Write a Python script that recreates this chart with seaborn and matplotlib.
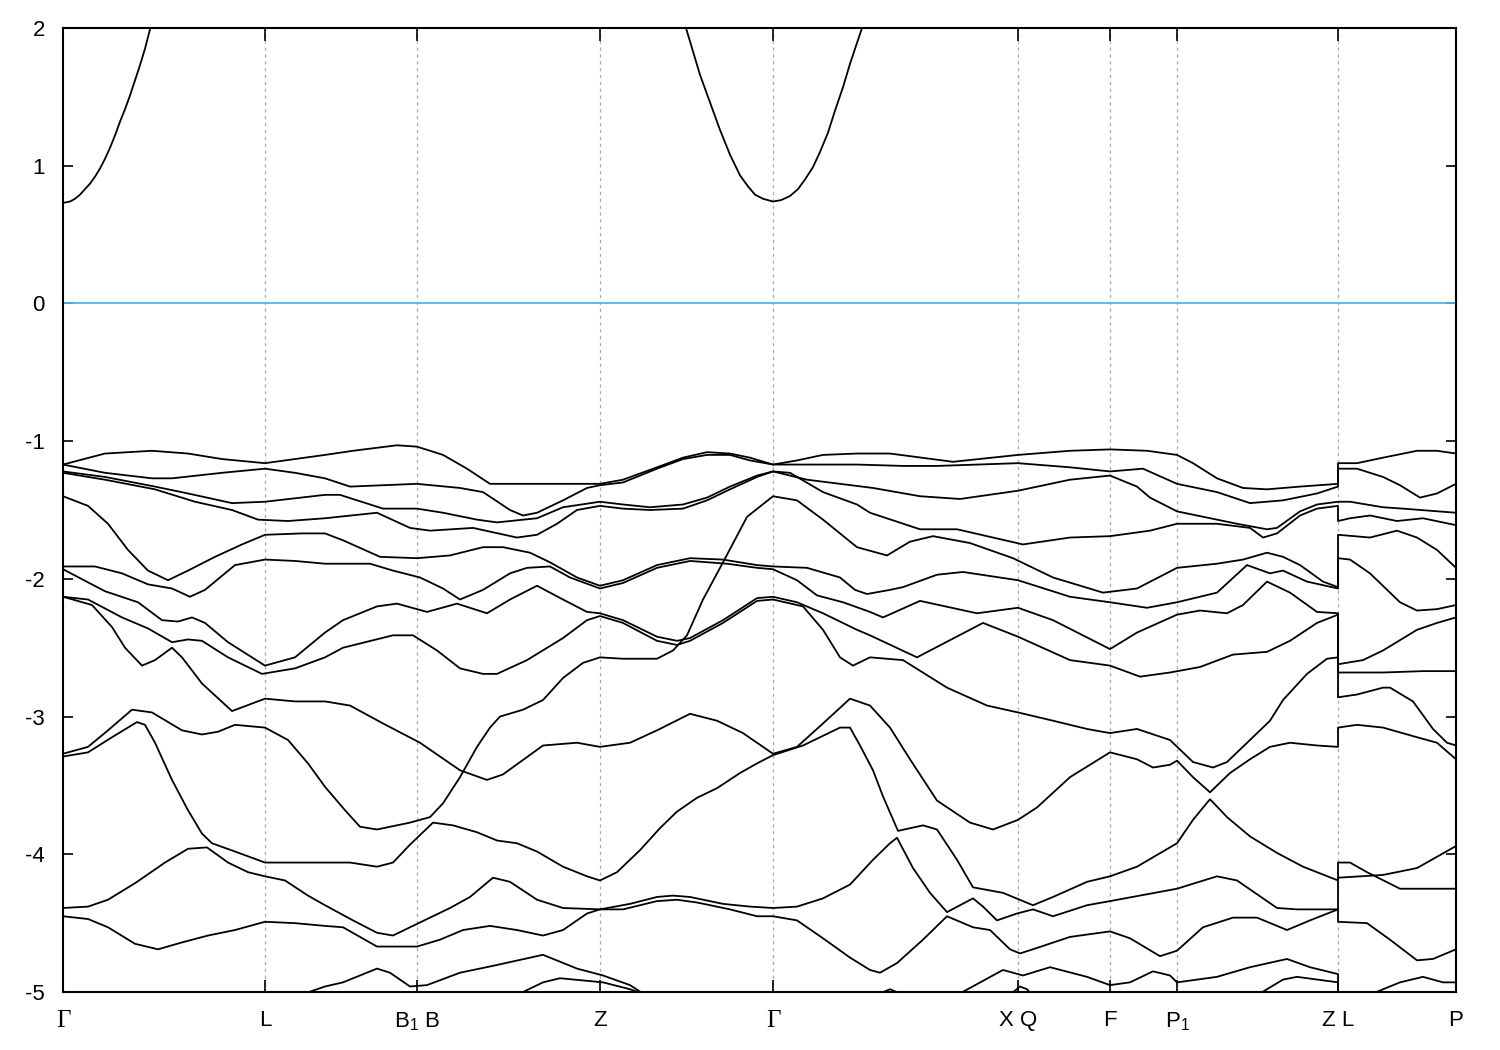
import matplotlib
matplotlib.use("Agg")
import numpy as np
import pandas as pd
import matplotlib.pyplot as plt
import seaborn as sns

# k-path coordinate in 1e-3 path units, energies in eV (valence top region)
TICK_K = [0, 202, 354, 537, 710, 955, 1047, 1114, 1275, 1393]
TICK_LABELS = ["Γ", "L", "B$_\\mathregular{1}$ B", "Z", "Γ", "X Q", "F", "P$_\\mathregular{1}$", "Z L", "P"]
Y_TICKS = [-5, -4, -3, -2, -1, 0, 1, 2]

# conduction band
CB_1 = [(0, 0.73), (7, 0.74), (12, 0.76), (17, 0.79), (22, 0.83), (27, 0.87), (32, 0.92), (37, 0.98),
        (42, 1.05), (47, 1.13), (52, 1.22), (57, 1.32), (62, 1.41), (67, 1.51), (72, 1.62), (77, 1.73),
        (82, 1.85), (87, 1.99), (97, 2.25)]
CB_2 = [(612, 2.25), (623, 2.00), (630, 1.83), (637, 1.66), (647, 1.46), (657, 1.26), (667, 1.08),
        (677, 0.93), (685, 0.85), (692, 0.79), (700, 0.76), (710, 0.74), (718, 0.75), (727, 0.78),
        (735, 0.83), (742, 0.90), (750, 0.99), (757, 1.10), (765, 1.24), (772, 1.40), (780, 1.57),
        (787, 1.74), (793, 1.87), (799, 2.00), (810, 2.25)]

# valence bands
BAND_A = [(0, -1.17), (42, -1.09), (89, -1.07), (125, -1.09), (159, -1.13), (202, -1.16), (232, -1.13),
          (262, -1.10), (290, -1.07), (334, -1.03), (354, -1.04), (380, -1.10), (404, -1.20), (427, -1.31),
          (480, -1.31), (537, -1.31), (560, -1.28), (594, -1.19), (620, -1.12), (644, -1.08), (667, -1.09),
          (687, -1.12), (710, -1.17), (734, -1.14), (760, -1.10), (794, -1.09), (827, -1.09), (890, -1.15),
          (955, -1.10), (1007, -1.07), (1047, -1.06), (1084, -1.07), (1114, -1.10), (1130, -1.16),
          (1154, -1.27), (1180, -1.34), (1204, -1.35), (1237, -1.33), (1275, -1.31), (1275, -1.16),
          (1294, -1.16), (1320, -1.12), (1354, -1.07), (1374, -1.07), (1393, -1.09)]
BAND_B = [(0, -1.17), (42, -1.23), (89, -1.27), (109, -1.27), (159, -1.23), (202, -1.20), (232, -1.23),
          (262, -1.27), (287, -1.33), (354, -1.31), (397, -1.34), (420, -1.37), (447, -1.50), (460, -1.54),
          (474, -1.52), (500, -1.43), (524, -1.34), (537, -1.32), (560, -1.30), (594, -1.20), (620, -1.13),
          (644, -1.10), (667, -1.10), (687, -1.14), (710, -1.17), (744, -1.17), (794, -1.17), (840, -1.18),
          (874, -1.18), (955, -1.16), (1007, -1.19), (1047, -1.22), (1080, -1.20), (1114, -1.31),
          (1154, -1.37), (1187, -1.45), (1220, -1.43), (1254, -1.38), (1275, -1.33), (1275, -1.20),
          (1294, -1.20), (1320, -1.26), (1337, -1.32), (1357, -1.41), (1374, -1.38), (1393, -1.31)]
BAND_C = [(0, -1.22), (42, -1.26), (92, -1.33), (125, -1.38), (169, -1.45), (202, -1.44), (262, -1.39),
          (277, -1.39), (320, -1.49), (354, -1.49), (380, -1.52), (414, -1.57), (434, -1.59), (474, -1.56),
          (500, -1.48), (537, -1.44), (560, -1.46), (587, -1.48), (620, -1.46), (644, -1.41), (667, -1.33),
          (694, -1.25), (710, -1.22), (727, -1.25), (744, -1.28), (777, -1.31), (810, -1.34), (857, -1.40),
          (897, -1.42), (955, -1.36), (1007, -1.28), (1047, -1.25), (1074, -1.33), (1087, -1.41),
          (1114, -1.51), (1154, -1.57), (1174, -1.60), (1204, -1.64), (1214, -1.63), (1237, -1.51),
          (1254, -1.46), (1275, -1.44), (1287, -1.44), (1320, -1.48), (1340, -1.49), (1393, -1.52)]
BAND_D = [(0, -1.23), (42, -1.28), (92, -1.35), (132, -1.44), (169, -1.50), (195, -1.57), (225, -1.58),
          (262, -1.56), (314, -1.52), (347, -1.63), (367, -1.65), (410, -1.63), (454, -1.70), (474, -1.68),
          (494, -1.60), (514, -1.50), (537, -1.47), (560, -1.49), (587, -1.50), (620, -1.49), (644, -1.43),
          (667, -1.35), (694, -1.26), (710, -1.22), (727, -1.23), (760, -1.37), (794, -1.46), (807, -1.52),
          (857, -1.64), (894, -1.64), (960, -1.75), (1007, -1.70), (1047, -1.69), (1087, -1.65),
          (1114, -1.60), (1154, -1.60), (1187, -1.63), (1200, -1.70), (1214, -1.67), (1237, -1.54),
          (1254, -1.49), (1275, -1.47), (1275, -1.58), (1287, -1.56), (1307, -1.54), (1334, -1.58),
          (1360, -1.56), (1393, -1.61)]
BAND_E = [(0, -1.40), (25, -1.47), (45, -1.60), (65, -1.79), (85, -1.94), (105, -2.01), (125, -1.94),
          (152, -1.84), (179, -1.75), (202, -1.68), (239, -1.67), (262, -1.67), (280, -1.72), (317, -1.84),
          (354, -1.85), (387, -1.83), (420, -1.77), (440, -1.77), (467, -1.81), (487, -1.88), (514, -1.99),
          (537, -2.05), (560, -2.01), (594, -1.90), (627, -1.85), (660, -1.86), (694, -1.90), (710, -1.91),
          (744, -1.92), (777, -1.99), (792, -2.08), (804, -2.11), (827, -2.08), (840, -2.06), (874, -1.97),
          (900, -1.95), (955, -2.01), (1007, -2.13), (1047, -2.17), (1084, -2.21), (1114, -2.17),
          (1154, -2.10), (1184, -1.90), (1207, -1.96), (1220, -1.94), (1244, -2.02), (1275, -2.07),
          (1275, -1.85), (1287, -1.86), (1307, -1.96), (1337, -2.17), (1354, -2.23), (1374, -2.22),
          (1393, -2.19)]
BAND_F = [(0, -1.91), (32, -1.91), (59, -1.96), (85, -2.04), (109, -2.07), (127, -2.13), (142, -2.08),
          (172, -1.90), (202, -1.86), (232, -1.87), (262, -1.89), (307, -1.89), (330, -1.94), (357, -1.99),
          (380, -2.07), (397, -2.15), (420, -2.08), (447, -1.96), (464, -1.92), (487, -1.91), (507, -1.99),
          (537, -2.07), (560, -2.03), (594, -1.92), (627, -1.87), (664, -1.89), (694, -1.92), (710, -1.93),
          (734, -2.01), (754, -2.12), (780, -2.17), (807, -2.24), (820, -2.28), (857, -2.16), (914, -2.25),
          (955, -2.21), (990, -2.30), (1047, -2.51), (1074, -2.39), (1114, -2.26), (1137, -2.23),
          (1164, -2.25), (1180, -2.19), (1204, -2.02), (1227, -2.10), (1254, -2.24), (1275, -2.25),
          (1275, -2.62), (1300, -2.59), (1320, -2.52), (1354, -2.37), (1374, -2.32), (1393, -2.28)]
BAND_G = [(0, -1.93), (42, -2.09), (75, -2.17), (99, -2.30), (115, -2.31), (129, -2.28), (142, -2.32),
          (165, -2.46), (202, -2.63), (232, -2.57), (262, -2.39), (280, -2.30), (314, -2.20), (334, -2.18),
          (364, -2.24), (394, -2.18), (424, -2.25), (447, -2.15), (474, -2.05), (500, -2.15), (524, -2.24),
          (537, -2.25), (560, -2.30), (594, -2.42), (614, -2.45), (627, -2.43), (660, -2.30), (694, -2.14),
          (710, -2.13), (734, -2.17), (760, -2.25), (794, -2.37), (807, -2.41), (854, -2.57), (920, -2.32),
          (955, -2.42), (1007, -2.59), (1047, -2.63), (1077, -2.71), (1107, -2.68), (1137, -2.64),
          (1170, -2.55), (1204, -2.53), (1227, -2.45), (1254, -2.32), (1275, -2.26), (1275, -2.68),
          (1320, -2.68), (1360, -2.67), (1393, -2.67)]
BAND_H = [(0, -2.13), (25, -2.15), (59, -2.28), (85, -2.36), (109, -2.46), (125, -2.44), (139, -2.45),
          (165, -2.57), (199, -2.69), (232, -2.65), (262, -2.57), (280, -2.50), (330, -2.41), (350, -2.41),
          (374, -2.52), (397, -2.65), (420, -2.69), (434, -2.69), (464, -2.59), (500, -2.43), (524, -2.30),
          (537, -2.27), (560, -2.32), (594, -2.45), (614, -2.48), (627, -2.45), (660, -2.32), (694, -2.16),
          (710, -2.15), (740, -2.20), (760, -2.37), (777, -2.57), (790, -2.63), (807, -2.57), (840, -2.59),
          (884, -2.79), (924, -2.92), (955, -2.97), (990, -3.03), (1024, -3.09), (1047, -3.12),
          (1074, -3.09), (1107, -3.17), (1130, -3.33), (1150, -3.37), (1164, -3.33), (1187, -3.17),
          (1207, -3.03), (1220, -2.88), (1244, -2.69), (1264, -2.58), (1275, -2.57), (1275, -2.86),
          (1294, -2.84), (1320, -2.79), (1327, -2.79), (1350, -2.89), (1370, -3.09), (1384, -3.19),
          (1393, -3.21)]
BAND_I = [(0, -2.13), (29, -2.19), (49, -2.35), (62, -2.50), (79, -2.63), (92, -2.59), (109, -2.50),
          (119, -2.57), (139, -2.76), (169, -2.96), (202, -2.87), (232, -2.89), (262, -2.89), (287, -2.92),
          (320, -3.05), (357, -3.19), (397, -3.39), (424, -3.46), (440, -3.42), (480, -3.21), (514, -3.19),
          (537, -3.22), (567, -3.19), (594, -3.10), (627, -2.98), (654, -3.03), (680, -3.12), (710, -3.27),
          (734, -3.22), (760, -3.05), (787, -2.87), (807, -2.92), (827, -3.08), (847, -3.31), (874, -3.61),
          (907, -3.77), (930, -3.82), (955, -3.75), (974, -3.66), (1007, -3.44), (1047, -3.26),
          (1074, -3.31), (1090, -3.37), (1107, -3.35), (1114, -3.32), (1130, -3.44), (1147, -3.55),
          (1167, -3.41), (1187, -3.31), (1207, -3.22), (1227, -3.19), (1254, -3.21), (1275, -3.22),
          (1275, -3.08), (1294, -3.06), (1320, -3.08), (1354, -3.15), (1374, -3.19), (1393, -3.31)]
BAND_J = [(0, -3.27), (25, -3.22), (45, -3.10), (69, -2.95), (89, -2.97), (119, -3.10), (139, -3.13),
          (155, -3.11), (172, -3.06), (202, -3.08), (225, -3.17), (245, -3.34), (262, -3.51), (282, -3.68),
          (297, -3.80), (314, -3.82), (347, -3.77), (367, -3.73), (380, -3.63), (397, -3.44), (414, -3.22),
          (427, -3.08), (437, -3.00), (460, -2.95), (480, -2.88), (500, -2.72), (520, -2.61), (537, -2.57),
          (560, -2.58), (594, -2.58), (610, -2.52), (624, -2.41), (640, -2.15), (660, -1.88), (684, -1.55),
          (710, -1.40), (734, -1.43), (760, -1.57), (794, -1.77), (824, -1.83), (847, -1.73), (870, -1.69),
          (907, -1.74), (950, -1.85), (990, -1.99), (1040, -2.10), (1074, -2.07), (1114, -1.92),
          (1154, -1.89), (1180, -1.86), (1204, -1.81), (1220, -1.84), (1237, -1.90), (1260, -2.02),
          (1275, -2.06), (1275, -1.68), (1307, -1.70), (1334, -1.65), (1354, -1.70), (1374, -1.79),
          (1393, -1.92)]
BAND_K = [(0, -3.29), (25, -3.26), (49, -3.15), (74, -3.04), (82, -3.06), (92, -3.19), (109, -3.46),
          (125, -3.68), (139, -3.85), (149, -3.92), (172, -3.98), (202, -4.06), (262, -4.06), (287, -4.06),
          (314, -4.09), (330, -4.06), (347, -3.93), (370, -3.77), (390, -3.79), (414, -3.84), (434, -3.90),
          (454, -3.92), (474, -3.98), (500, -4.09), (524, -4.16), (537, -4.19), (554, -4.13), (577, -3.97),
          (597, -3.81), (614, -3.69), (634, -3.59), (654, -3.52), (677, -3.41), (694, -3.34), (710, -3.28),
          (740, -3.21), (777, -3.08), (787, -3.08), (797, -3.21), (810, -3.39), (820, -3.58), (835, -3.83),
          (860, -3.79), (874, -3.82), (894, -4.04), (910, -4.24), (940, -4.28), (970, -4.37), (990, -4.31),
          (1024, -4.20), (1047, -4.16), (1074, -4.09), (1114, -3.92), (1130, -3.75), (1147, -3.60),
          (1164, -3.73), (1187, -3.87), (1214, -3.99), (1240, -4.09), (1275, -4.19), (1275, -4.06),
          (1287, -4.06), (1304, -4.13), (1337, -4.25), (1393, -4.25)]
BAND_L = [(0, -4.39), (25, -4.38), (45, -4.33), (72, -4.21), (102, -4.06), (125, -3.96), (144, -3.95),
          (165, -4.06), (185, -4.13), (202, -4.16), (222, -4.19), (245, -4.30), (262, -4.37), (290, -4.48),
          (314, -4.57), (330, -4.59), (347, -4.53), (367, -4.46), (387, -4.39), (407, -4.31), (430, -4.17),
          (447, -4.20), (474, -4.33), (500, -4.39), (537, -4.40), (567, -4.36), (594, -4.31), (610, -4.30),
          (627, -4.31), (660, -4.36), (687, -4.38), (710, -4.39), (734, -4.38), (760, -4.32), (787, -4.22),
          (810, -4.04), (827, -3.92), (834, -3.88), (850, -4.10), (867, -4.28), (884, -4.42), (910, -4.32),
          (920, -4.38), (934, -4.48), (954, -4.43), (970, -4.40), (990, -4.45), (1024, -4.37),
          (1047, -4.34), (1114, -4.25), (1154, -4.16), (1174, -4.19), (1214, -4.39), (1234, -4.40),
          (1275, -4.40), (1275, -4.17), (1320, -4.15), (1354, -4.10), (1393, -3.94)]
BAND_M = [(0, -4.45), (25, -4.47), (45, -4.53), (72, -4.65), (95, -4.69), (119, -4.64), (145, -4.59),
          (172, -4.55), (202, -4.49), (232, -4.50), (262, -4.52), (280, -4.53), (314, -4.67), (354, -4.67),
          (377, -4.62), (400, -4.55), (427, -4.52), (454, -4.55), (480, -4.59), (500, -4.55), (524, -4.43),
          (537, -4.40), (560, -4.40), (594, -4.34), (614, -4.33), (634, -4.35), (667, -4.40), (694, -4.45),
          (710, -4.45), (734, -4.48), (760, -4.61), (787, -4.75), (807, -4.84), (817, -4.86), (834, -4.79),
          (860, -4.62), (884, -4.45), (910, -4.53), (927, -4.55), (947, -4.69), (957, -4.72), (974, -4.68),
          (1007, -4.60), (1047, -4.56), (1067, -4.61), (1097, -4.74), (1114, -4.70), (1140, -4.53),
          (1170, -4.46), (1194, -4.46), (1224, -4.55), (1247, -4.48), (1275, -4.40), (1275, -4.49),
          (1304, -4.50), (1327, -4.62), (1354, -4.77), (1370, -4.76), (1393, -4.69)]
BAND_N = [(0, -5.35), (202, -5.13), (242, -5.01), (262, -4.96), (280, -4.93), (314, -4.83), (327, -4.86),
          (347, -4.96), (364, -4.95), (397, -4.86), (430, -4.81), (480, -4.73), (514, -4.83), (540, -4.88),
          (567, -4.95), (582, -5.02), (637, -5.17), (710, -5.24), (787, -5.09), (817, -5.01), (827, -4.98),
          (837, -5.01), (867, -5.06), (897, -5.01), (940, -4.84), (960, -4.88), (987, -4.82), (1024, -4.89),
          (1047, -4.95), (1067, -4.93), (1090, -4.85), (1107, -4.88), (1114, -4.93), (1154, -4.89),
          (1187, -4.82), (1224, -4.76), (1247, -4.82), (1275, -4.87), (1275, -5.09), (1310, -5.01),
          (1337, -4.93), (1360, -4.89), (1380, -4.93), (1393, -4.93)]
BAND_O = [(0, -5.49), (337, -5.28), (437, -5.06), (460, -5.00), (480, -4.93), (497, -4.90), (540, -4.93),
          (567, -4.98), (575, -5.00), (597, -5.09), (710, -5.28), (887, -5.13), (947, -5.02), (957, -4.96),
          (964, -4.98), (969, -5.02), (1037, -5.13), (1157, -5.09), (1197, -5.01), (1220, -4.91),
          (1234, -4.89), (1275, -4.93), (1275, -5.20), (1393, -5.28)]

bands = [CB_1, CB_2, BAND_A, BAND_B, BAND_C, BAND_D, BAND_E, BAND_F, BAND_G, BAND_H,
         BAND_I, BAND_J, BAND_K, BAND_L, BAND_M, BAND_N, BAND_O]

rows = []
for b, pts in enumerate(bands):
    for i, (k, e) in enumerate(pts):
        rows.append((b, i, k / 1000.0, e))
df = pd.DataFrame(rows, columns=["band", "order", "k", "E"])

sns.set_theme(style="ticks")
plt.rcParams["font.family"] = ["Liberation Sans", "DejaVu Sans"]
plt.rcParams["axes.unicode_minus"] = False

fig = plt.figure(figsize=(15, 10.5), dpi=100)
ax = fig.add_axes([63 / 1500, 58 / 1050, 1393 / 1500, 964 / 1050])

# high-symmetry guides and Fermi level
for k in TICK_K[1:-1]:
    ax.axvline(k / 1000.0, color="#a8a8a8", lw=0.9, ls=(0, (2.5, 3)), zorder=0)
ax.axhline(0, color="#56b4e9", lw=1.3, zorder=1)

sns.lineplot(data=df, x="k", y="E", units="band", estimator=None, sort=False,
             color="black", lw=1.3, ax=ax, legend=False)

ax.set_xlim(0, TICK_K[-1] / 1000.0)
ax.set_ylim(-5, 2)
ax.set_xticks([k / 1000.0 for k in TICK_K])
ax.set_xticklabels(TICK_LABELS)
ax.set_yticks(Y_TICKS)
ax.set_yticklabels([str(v) for v in Y_TICKS])
ax.set_xlabel("")
ax.set_ylabel("")

ax.tick_params(axis="both", direction="in", labelsize=16, colors="black", width=1.2)
ax.tick_params(axis="x", length=9, pad=13, top=True)
ax.tick_params(axis="y", length=7, pad=13, right=True)
for lab in ax.get_xticklabels():
    if lab.get_text() == "Γ":
        lab.set_fontfamily(["Liberation Serif", "DejaVu Serif"])
        lab.set_fontsize(18)
for s in ax.spines.values():
    s.set_visible(True)
    s.set_linewidth(1.5)
    s.set_color("black")

fig.savefig("out.png", dpi=100)
